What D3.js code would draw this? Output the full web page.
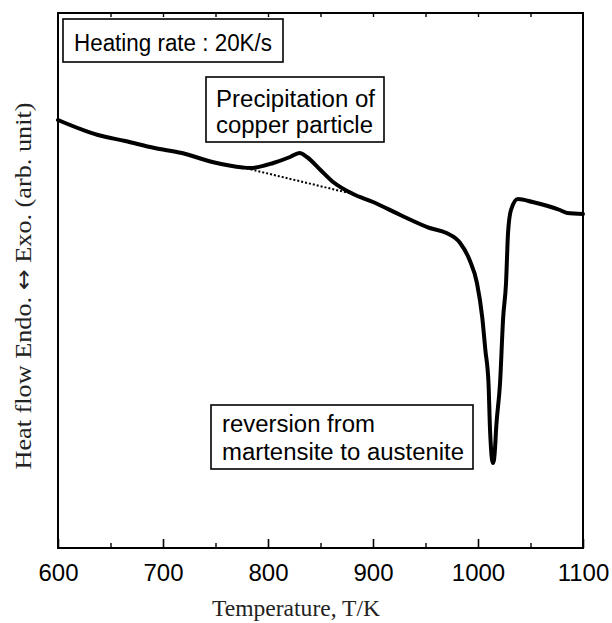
<!DOCTYPE html>
<html>
<head>
<meta charset="utf-8">
<script src="https://cdn.jsdelivr.net/npm/d3@7"></script>
<style>
  html, body { margin: 0; padding: 0; background: #fff; }
  svg { display: block; }
</style>
</head>
<body>
<svg id="chart" width="612" height="623"></svg>
<script>
// ---- Data ----
const temperature = [600, 638, 664, 692, 718, 747, 776, 783, 805, 821, 830, 837, 850, 862, 881, 900, 926, 954, 970, 983, 992, 999, 1004, 1007, 1010, 1011.4, 1012.5, 1013.4, 1014.3, 1015.2, 1016.1, 1017.3, 1021, 1024, 1026.7, 1028.6, 1031.4, 1038, 1052, 1078, 1085, 1100];
const heatFlow    = [85.6, 82.6, 81.4, 80, 79, 77.2, 76.1, 76.0, 77, 78.2, 79, 78.2, 75.6, 73.2, 70.8, 69.2, 66.6, 64, 63, 61, 57.6, 53, 46.2, 39.6, 33, 24, 19.6, 17.6, 17.0, 17.6, 19.6, 24, 33, 46.2, 53, 63, 67.6, 69.8, 69.2, 67.6, 67, 66.8];
const baselineT   = [776, 881];
const baselineH   = [76.1, 70.8];
const majorTicks  = [600, 700, 800, 900, 1000, 1100];
const minorTicks  = [650, 750, 850, 950, 1050];
const topTicks    = [650, 700, 750, 800, 850, 900, 950, 1000, 1050];
const xDomain     = [600, 1100];
const yDomain     = [0, 107];
const xTitle      = "Temperature, T/K";
const yTitleParts = ["Heat flow Endo. ", "\u2194", " Exo. (arb. unit)"];
const noteRate    = ["Heating rate : 20K/s"];
const notePrecip  = ["Precipitation of", "copper particle"];
const noteRevert  = ["reversion from", "martensite to austenite"];

// ---- Layout ----
const L = 58, R = 583, T = 13, B = 548;
const svg = d3.select("#chart");
svg.append("rect").attr("width", 612).attr("height", 623).attr("fill", "#fff");

const x = d3.scaleLinear().domain(xDomain).range([L, R]);
const y = d3.scaleLinear().domain(yDomain).range([B, T]);

// Axes (ticks inward)
const gB = svg.append("g").attr("transform", `translate(0,${B})`)
  .call(d3.axisBottom(x).tickValues(majorTicks).tickSize(-9).tickPadding(16).tickFormat(d3.format("d")));
gB.select(".domain").remove();
gB.selectAll("line").attr("stroke", "#000").attr("stroke-width", 1.6);
gB.selectAll("text").attr("font-family", "'Liberation Sans', Arial, sans-serif")
  .attr("font-size", 24).attr("fill", "#000");

const gBm = svg.append("g").attr("transform", `translate(0,${B})`)
  .call(d3.axisBottom(x).tickValues(minorTicks).tickSize(-5).tickFormat(""));
gBm.select(".domain").remove();
gBm.selectAll("line").attr("stroke", "#000").attr("stroke-width", 1.4);

const gT = svg.append("g").attr("transform", `translate(0,${T})`)
  .call(d3.axisTop(x).tickValues(topTicks).tickSize(-4).tickFormat(""));
gT.select(".domain").remove();
gT.selectAll("line").attr("stroke", "#000").attr("stroke-width", 1.4);

// Frame
svg.append("rect").attr("x", L).attr("y", T).attr("width", R - L).attr("height", B - T)
  .attr("fill", "none").attr("stroke", "#000").attr("stroke-width", 2);

// Baseline (dotted)
const pts = temperature.map((t, i) => [t, heatFlow[i]]);
const bpts = baselineT.map((t, i) => [t, baselineH[i]]);
svg.append("path").datum(bpts)
  .attr("d", d3.line().x(d => x(d[0])).y(d => y(d[1])))
  .attr("fill", "none").attr("stroke", "#000").attr("stroke-width", 2)
  .attr("stroke-dasharray", "2,2");

// Curve
svg.append("path").datum(pts)
  .attr("d", d3.line().x(d => x(d[0])).y(d => y(d[1])).curve(d3.curveMonotoneX))
  .attr("fill", "none").attr("stroke", "#000").attr("stroke-width", 4)
  .attr("stroke-linejoin", "round").attr("stroke-linecap", "round");

// Annotation boxes
function note(lines, box, textX, baselines, widths) {
  svg.append("rect").attr("x", box[0]).attr("y", box[1]).attr("width", box[2] - box[0]).attr("height", box[3] - box[1])
    .attr("fill", "#fff").attr("stroke", "#000").attr("stroke-width", 1.6);
  lines.forEach((s, i) => {
    svg.append("text").attr("x", textX).attr("y", baselines[i])
      .attr("font-family", "'Liberation Sans', Arial, sans-serif").attr("font-size", 23)
      .attr("fill", "#000").attr("textLength", widths[i]).attr("lengthAdjust", "spacingAndGlyphs")
      .text(s);
  });
}
note(noteRate, [63, 19, 283, 62], 74, [51], [198]);
note(notePrecip, [206, 77, 384, 142], 216, [107, 133], [159, 157]);
note(noteRevert, [211, 405, 473, 469], 222, [432, 460], [153, 242]);

// Axis titles
svg.append("text").attr("x", 296).attr("y", 616).attr("text-anchor", "middle")
  .attr("font-family", "'Liberation Serif', 'Times New Roman', serif").attr("font-size", 23)
  .attr("fill", "#222").attr("textLength", 168).attr("lengthAdjust", "spacingAndGlyphs")
  .text(xTitle);
const yt = svg.append("text").attr("transform", "translate(31,286) rotate(-90)").attr("text-anchor", "middle")
  .attr("font-family", "'Liberation Serif', 'Times New Roman', serif").attr("font-size", 23)
  .attr("fill", "#222").attr("textLength", 367).attr("lengthAdjust", "spacingAndGlyphs");
yt.append("tspan").text(yTitleParts[0]);
yt.append("tspan").attr("font-family", "'DejaVu Sans', sans-serif").attr("font-size", 22).text(yTitleParts[1]);
yt.append("tspan").text(yTitleParts[2]);
</script>
</body>
</html>
